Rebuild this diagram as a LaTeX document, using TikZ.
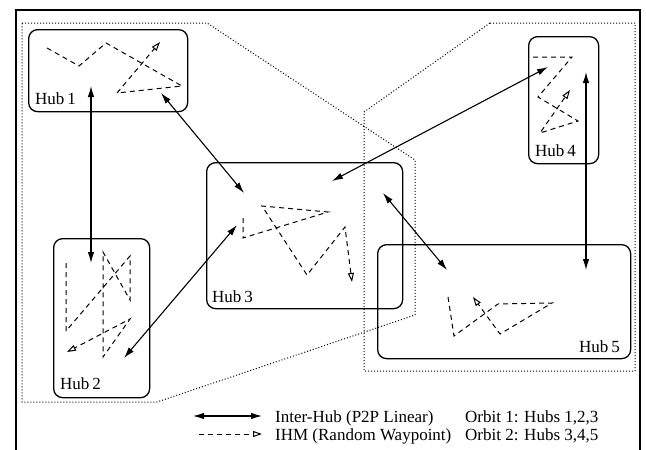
\documentclass[tikz,border=0pt]{standalone}
\usepackage{fontspec}
\setmainfont{Liberation Serif}
\usetikzlibrary{arrows.meta}
\begin{document}
\begin{tikzpicture}[x=1pt,y=-1pt,
  hub/.style={draw, line width=1.3pt, rounded corners=9pt, inner sep=0pt, anchor=north west},
  lbl/.style={font=\fontsize{17}{19}\selectfont, inner sep=0pt, anchor=base west},
  lgd/.style={font=\fontsize{17}{19}\selectfont, inner sep=0pt, anchor=base west},
  ih/.style={{Latex[length=11pt,width=6.5pt]}-{Latex[length=11pt,width=6.5pt]}, line width=1.1pt},
  rw/.style={-{Triangle[open,length=9pt,width=6pt,line width=1pt]}, line width=1pt, dash pattern=on 5pt off 4pt},
  orbit/.style={line width=1pt, dash pattern=on 1pt off 2pt}
]
\useasboundingbox (0,0) rectangle (646,450);
\clip (0,0) rectangle (646,450);
% frame
\draw[line width=1.2pt] (16,460) -- (16,10) -- (640,10) -- (640,460);
% orbits
\draw[orbit] (22,23) -- (207,23) -- (415,160) -- (415,315) -- (157,402) -- (22,402) -- cycle;
\draw[orbit] (490,23) -- (635,23) -- (635,371) -- (364,371) -- (364,112) -- cycle;
% hubs
\node[hub, minimum width=159pt, minimum height=82pt] (h1) at (28,29) {};
\node[hub, minimum width=96pt, minimum height=159pt] (h2) at (53,238) {};
\node[hub, minimum width=196pt, minimum height=146pt] (h3) at (206,162) {};
\node[hub, minimum width=70pt, minimum height=127pt] (h4) at (528,36) {};
\node[hub, minimum width=253pt, minimum height=114pt] (h5) at (377,244) {};
\node[lbl] (l1) at (35,104) {Hub\,1};
\node[lbl] (l2) at (60,389) {Hub\,2};
\node[lbl] (l3) at (212,302) {Hub\,3};
\node[lbl] (l4) at (535,156) {Hub\,4};
\node[lbl, anchor=base east] (l5) at (620,352) {Hub\,5};
% inter-hub endpoints
\coordinate (a1) at (91,86);  \coordinate (a2) at (91,263);
\coordinate (b1) at (161,93); \coordinate (b3) at (244,193);
\coordinate (c2) at (124,358); \coordinate (c3) at (237,225);
\coordinate (d3) at (332,181); \coordinate (d4) at (548,67);
\coordinate (e3) at (383,193); \coordinate (e5) at (447,270);
\coordinate (f4) at (586,72); \coordinate (f5) at (586,270);
\draw[ih] (a1) -- (a2);
\draw[ih] (b1) -- (b3);
\draw[ih] (c2) -- (c3);
\draw[ih] (d3) -- (d4);
\draw[ih] (e3) -- (e5);
\draw[ih] (f4) -- (f5);
% random waypoint paths
\draw[rw] (47,48) -- (79,66) -- (106,43) -- (182,86) -- (117,93) -- (160,42);
\draw[rw] (66,263) -- (66,331) -- (130,256) -- (130,300) -- (103,252) -- (103,357) -- (130,319) -- (67,352);
\draw[rw] (243,218) -- (243,238) -- (328,212) -- (262,206) -- (307,275) -- (345,227) -- (352,282);
\draw[rw] (533,57) -- (572,57) -- (538,97) -- (578,121) -- (540,133) -- (570,90);
\draw[rw] (448,297) -- (454,336) -- (498,304) -- (552,303) -- (500,334) -- (473,297);
% legend
\coordinate (g1a) at (193,416); \coordinate (g1b) at (262,416);
\coordinate (g2a) at (199,434); \coordinate (g2b) at (262,434);
\draw[ih] (g1a) -- (g1b);
\draw[rw] (g2a) -- (g2b);
\node[lgd] (t1) at (275,422) {Inter-Hub (P2P Linear)};
\node[lgd] (t2) at (275,440) {IHM (Random Waypoint)};
\node[lgd] (t3) at (465,422) {Orbit 1: Hubs 1,2,3};
\node[lgd] (t4) at (465,440) {Orbit 2: Hubs 3,4,5};
\end{tikzpicture}
\end{document}
